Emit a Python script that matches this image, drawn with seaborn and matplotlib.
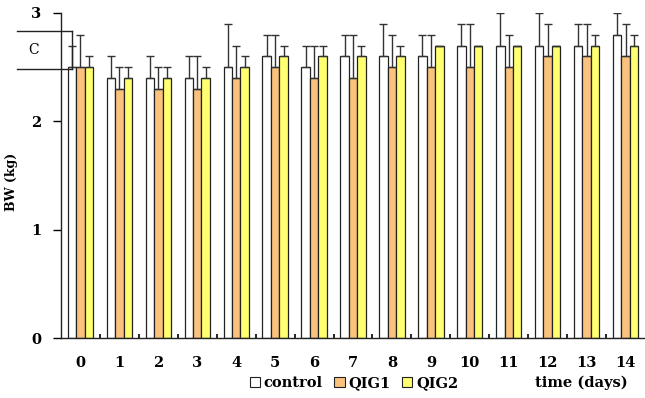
import numpy as np
import pandas as pd
import matplotlib
matplotlib.use("Agg")
import matplotlib.pyplot as plt
from matplotlib.lines import Line2D
from matplotlib.ticker import FixedLocator
import seaborn as sns

# data
days = list(range(15))
groups = ["control", "QIG1", "QIG2"]
control = [2.5, 2.4, 2.4, 2.4, 2.5, 2.6, 2.5, 2.6, 2.6, 2.6, 2.7, 2.7, 2.7, 2.7, 2.8]
qig1 = [2.5, 2.3, 2.3, 2.3, 2.4, 2.5, 2.4, 2.4, 2.5, 2.5, 2.5, 2.5, 2.6, 2.6, 2.6]
qig2 = [2.5, 2.4, 2.4, 2.4, 2.5, 2.6, 2.6, 2.6, 2.6, 2.7, 2.7, 2.7, 2.7, 2.7, 2.7]
control_sd = [0.2, 0.2, 0.2, 0.2, 0.4, 0.2, 0.2, 0.2, 0.3, 0.2, 0.2, 0.3, 0.3, 0.2, 0.2]
qig1_sd = [0.3, 0.2, 0.2, 0.3, 0.3, 0.3, 0.3, 0.4, 0.3, 0.3, 0.4, 0.3, 0.3, 0.3, 0.3]
qig2_sd = [0.1, 0.1, 0.1, 0.1, 0.1, 0.1, 0.1, 0.1, 0.1, 0.0, 0.0, 0.0, 0.0, 0.1, 0.1]
colors = ["#FFFFFF", "#FAC27C", "#FFFF70"]

df = pd.DataFrame({
    "day": days * 3,
    "group": [g for g in groups for _ in days],
    "bw": control + qig1 + qig2,
    "sd": control_sd + qig1_sd + qig2_sd,
})

fig = plt.figure(figsize=(6.45, 3.98), dpi=100)
ax = fig.add_axes([61 / 645, 1 - 338 / 398, 1 - 61 / 645, (338 - 13) / 398])

sns.barplot(data=df, x="day", y="bw", hue="group", hue_order=groups,
            palette=colors, saturation=1, width=0.65, errorbar=None,
            edgecolor="#222222", linewidth=0.9, legend=False, ax=ax)

# upper-only error bars, placed on the bars seaborn drew
bars = [p for p in ax.patches if p.get_height() > 0]
for i, g in enumerate(groups):
    sub = df[df.group == g]
    gbars = bars[i * len(days):(i + 1) * len(days)]
    xs = [b.get_x() + b.get_width() / 2 for b in gbars]
    ax.errorbar(xs, sub.bw, yerr=[np.zeros(len(sub)), sub.sd], fmt="none",
                ecolor="#333333", elinewidth=1, capsize=3, capthick=1, zorder=1)

ax.set_xlim(-0.5, 14.5)
ax.set_ylim(0, 3)
ax.set_yticks([0, 1, 2, 3])
sns.despine(ax=ax)
for s in ["left", "bottom"]:
    ax.spines[s].set_color("#222222")
    ax.spines[s].set_linewidth(1)

tick_font = dict(family="DejaVu Serif", weight="bold", size=10.5)
ax.set_xticks(days)
ax.set_xticklabels([str(d) for d in days], fontdict=tick_font)
ax.set_yticklabels(["0", "1", "2", "3"], fontdict=tick_font)
ax.tick_params(axis="x", which="major", length=0, pad=13)
ax.tick_params(axis="y", length=6, width=1, pad=8, direction="out")
ax.xaxis.set_minor_locator(FixedLocator([d + 0.5 for d in days[:-1]]))
ax.tick_params(axis="x", which="minor", length=3, width=1.2, direction="in")
ax.set_xlabel("")
ax.set_ylabel("")

fig.text(12 / 645, 1 - 182 / 398, "BW (kg)", rotation=90, ha="center", va="center",
         family="DejaVu Serif", weight="bold", size=9)
fig.text(628 / 645, 1 - 383 / 398, "time (days)", ha="right", va="center",
         family="DejaVu Serif", weight="bold", size=10.5)

handles = [plt.Rectangle((0, 0), 1, 1, facecolor=c, edgecolor="#222222", linewidth=0.8)
           for c in colors]
fig.legend(handles, groups, loc="center", bbox_to_anchor=(354 / 645, 1 - 383 / 398),
           ncol=3, frameon=False, handlelength=0.7, handleheight=0.7,
           handletextpad=0.25, columnspacing=0.8,
           prop=dict(family="DejaVu Serif", weight="bold", size=10.5))

# the "C" bracket near the top-left
for y in (31, 69):
    fig.add_artist(Line2D([17 / 645, 72 / 645], [1 - y / 398] * 2, color="#222222", lw=1))
fig.add_artist(Line2D([72 / 645] * 2, [1 - 31 / 398, 1 - 69 / 398], color="#222222", lw=1))
fig.text(34 / 645, 1 - 50 / 398, "C", ha="center", va="center",
         family="DejaVu Serif", size=10)

fig.savefig("out.png", dpi=100)
